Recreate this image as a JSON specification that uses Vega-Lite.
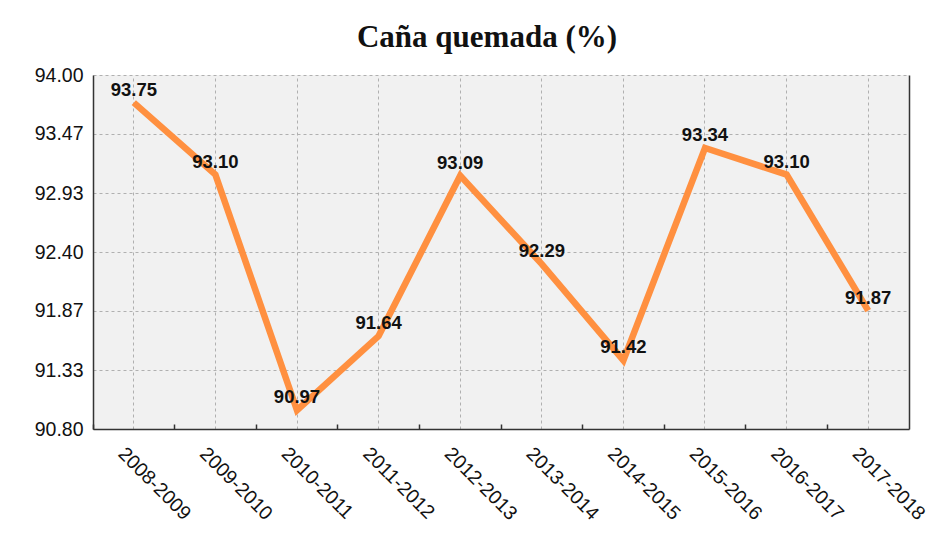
{
  "$schema": "https://vega.github.io/schema/vega-lite/v6.json",
  "width": 816,
  "height": 354,
  "autosize": "none",
  "padding": {"left": 93, "top": 75, "right": 35, "bottom": 115},
  "background": "white",
  "title": {
    "text": "Caña quemada (%)",
    "font": "Liberation Serif",
    "fontSize": 31,
    "fontWeight": "bold",
    "color": "#111111",
    "anchor": "middle",
    "dx": -14,
    "offset": 11
  },
  "data": {
    "values": [
      {"temporada": "2008-2009", "valor": 93.75},
      {"temporada": "2009-2010", "valor": 93.10},
      {"temporada": "2010-2011", "valor": 90.97},
      {"temporada": "2011-2012", "valor": 91.64},
      {"temporada": "2012-2013", "valor": 93.09},
      {"temporada": "2013-2014", "valor": 92.29},
      {"temporada": "2014-2015", "valor": 91.42},
      {"temporada": "2015-2016", "valor": 93.34},
      {"temporada": "2016-2017", "valor": 93.10},
      {"temporada": "2017-2018", "valor": 91.87}
    ]
  },
  "config": {
    "view": {"fill": "#f1f1f1", "stroke": null},
    "axis": {
      "labelFont": "Liberation Sans",
      "labelFontSize": 19.5,
      "labelColor": "#111111",
      "domainColor": "#333333",
      "domainWidth": 1.5,
      "tickColor": "#333333",
      "gridColor": "#b0b0b0",
      "gridDash": [3, 3],
      "gridWidth": 1
    }
  },
  "resolve": {"axis": {"x": "independent", "y": "independent"}},
  "layer": [
    {
      "mark": {"type": "line", "color": "#ff9040", "strokeWidth": 6.5, "strokeJoin": "miter"},
      "encoding": {
        "x": {
          "field": "temporada",
          "type": "nominal",
          "sort": null,
          "bandPosition": 0.5,
          "scale": {"type": "band", "paddingInner": 0, "paddingOuter": 0},
          "axis": {
            "title": null,
            "orient": "bottom",
            "bandPosition": 0,
            "grid": false,
            "ticks": true,
            "tickSize": -5,
            "tickWidth": 1.5,
            "labelAngle": 45,
            "labelAlign": "left",
            "labelBaseline": "top",
            "labelOffset": -6,
            "labelPadding": 20,
            "labelFlush": false
          }
        },
        "y": {
          "field": "valor",
          "type": "quantitative",
          "scale": {"domain": [90.8, 94], "nice": false, "zero": false},
          "axis": {
            "title": null,
            "orient": "left",
            "values": [90.8, 91.3333, 91.8667, 92.4, 92.9333, 93.4667, 94.0],
            "format": ".2f",
            "ticks": false,
            "labelPadding": 10,
            "grid": true
          }
        }
      }
    },
    {
      "mark": {
        "type": "text",
        "font": "Liberation Sans",
        "fontSize": 18.5,
        "fontWeight": "bold",
        "color": "#111111",
        "baseline": "middle",
        "align": "center",
        "dy": -13
      },
      "encoding": {
        "x": {
          "field": "temporada",
          "type": "nominal",
          "sort": null,
          "bandPosition": 0.5,
          "axis": {
            "title": null,
            "orient": "top",
            "bandPosition": 0.5,
            "grid": true,
            "ticks": false,
            "labels": false,
            "domain": false
          }
        },
        "y": {
          "field": "valor",
          "type": "quantitative",
          "axis": {
            "title": null,
            "orient": "right",
            "grid": false,
            "ticks": false,
            "labels": false,
            "domain": true
          }
        },
        "text": {"field": "valor", "type": "quantitative", "format": ".2f"}
      }
    }
  ]
}
